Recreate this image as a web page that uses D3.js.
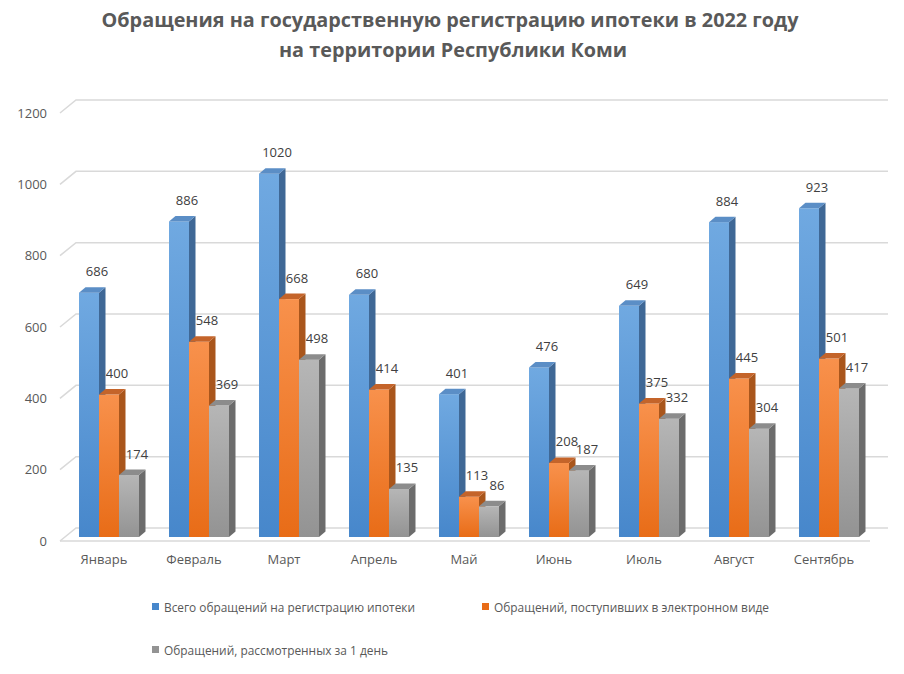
<!doctype html>
<html>
<head>
    <meta charset="utf-8"/>
    <style>
        html, body {
            margin: 0px;
            background: #fff;
        }
        svg {
            display: block;
        }
        text {
            font-family: 'Open Sans', 'Liberation Sans', sans-serif;
            fill: #595959;
        }
    </style>
    <script src="https://d3js.org/d3.v7.min.js"></script>
</head>
<body>

<svg width="904" height="674"></svg>

<script>

    var months = ["Январь", "Февраль", "Март", "Апрель", "Май", "Июнь", "Июль", "Август", "Сентябрь"];
    var totalValues = [686, 886, 1020, 680, 401, 476, 649, 884, 923];
    var electronicValues = [400, 548, 668, 414, 113, 208, 375, 445, 501];
    var oneDayValues = [174, 369, 498, 135, 86, 187, 332, 304, 417];
    var seriesNames = [
        "Всего обращений на регистрацию ипотеки",
        "Обращений, поступивших в электронном виде",
        "Обращений, рассмотренных за 1 день"
    ];
    var yTicks = [0, 200, 400, 600, 800, 1000, 1200];

    var svg = d3.select("svg");

    // 3d look: back wall is shifted up/right from the front plane
    var WALL_DX = 16, WALL_DY = -13;
    var BAR_DX = 6.5, BAR_DY = -5.5;
    var BAR_W = 20;

    var x = d3.scaleBand().domain(months).range([60, 870]).padding(0);
    var yFront = d3.scaleLinear().domain([0, 1200]).range([541, 113]);
    var yBar = d3.scaleLinear().domain([0, 1200]).range([537, 109.6]);

    var palette = [
        {top: "#5b8ec6", side: "#3f6896", light: "#70a9e1", dark: "#4787cb"},
        {top: "#c4642a", side: "#a9561c", light: "#f8914c", dark: "#e86c17"},
        {top: "#8c8c8c", side: "#6c6c6c", light: "#b6b6b6", dark: "#939393"}
    ];

    var defs = svg.append("defs");
    palette.forEach(function(p, i) {
        var g = defs.append("linearGradient")
            .attr("id", "front-" + i)
            .attr("x1", 0).attr("y1", 0).attr("x2", 0).attr("y2", 1);
        g.append("stop").attr("offset", "0%").attr("stop-color", p.light);
        g.append("stop").attr("offset", "100%").attr("stop-color", p.dark);
    });

    // --- TITLE --- //
    svg.append("text")
        .attr("x", 450).attr("y", 27)
        .attr("text-anchor", "middle")
        .attr("textLength", 697).attr("lengthAdjust", "spacingAndGlyphs")
        .style("font-size", "20px").style("font-weight", "bold")
        .text("Обращения на государственную регистрацию ипотеки в 2022 году");
    svg.append("text")
        .attr("x", 453).attr("y", 57)
        .attr("text-anchor", "middle")
        .attr("textLength", 348).attr("lengthAdjust", "spacingAndGlyphs")
        .style("font-size", "20px").style("font-weight", "bold")
        .text("на территории Республики Коми");

    // --- GRID --- //
    var grid = svg.append("g")
        .attr("fill", "none")
        .attr("stroke", "#d9d9d9")
        .attr("stroke-width", 1.5);

    yTicks.forEach(function(v) {
        var yf = yFront(v);
        grid.append("path")
            .attr("d", "M60," + yf + "L" + (60 + WALL_DX) + "," + (yf + WALL_DY) + "L888," + (yf + WALL_DY));
    });
    grid.append("path").attr("d", "M60,541L870,541");

    // --- Y AXIS LABELS --- //
    svg.append("g")
        .selectAll("text")
        .data(yTicks)
        .enter().append("text")
        .attr("x", 47)
        .attr("y", function(d) { return yFront(d) + 4.5; })
        .attr("text-anchor", "end")
        .style("font-size", "13px")
        .text(function(d) { return d; });

    // --- X AXIS LABELS --- //
    svg.append("g")
        .selectAll("text")
        .data(months)
        .enter().append("text")
        .attr("x", function(d) { return x(d) + 44; })
        .attr("y", 564)
        .attr("text-anchor", "middle")
        .style("font-size", "13px")
        .text(function(d) { return d; });

    // --- BARS --- //
    var series = [totalValues, electronicValues, oneDayValues];
    var bars = svg.append("g");
    var labels = svg.append("g");

    months.forEach(function(m, i) {
        series.forEach(function(values, s) {
            var v = values[i];
            var x0 = x(m) + 19 + s * BAR_W;
            var x1 = x0 + BAR_W;
            var yt = yBar(v);
            var yb = yBar(0);
            var p = palette[s];

            bars.append("rect")
                .attr("x", x0).attr("y", yt)
                .attr("width", BAR_W).attr("height", yb - yt)
                .attr("fill", "url(#front-" + s + ")");
            bars.append("path")
                .attr("d", "M" + x1 + "," + yt + "L" + (x1 + BAR_DX) + "," + (yt + BAR_DY) +
                    "L" + (x1 + BAR_DX) + "," + (yb + BAR_DY) + "L" + x1 + "," + yb + "Z")
                .attr("fill", p.side);
            bars.append("path")
                .attr("d", "M" + x0 + "," + yt + "L" + x1 + "," + yt +
                    "L" + (x1 + BAR_DX) + "," + (yt + BAR_DY) + "L" + (x0 + BAR_DX) + "," + (yt + BAR_DY) + "Z")
                .attr("fill", p.top);

            labels.append("text")
                .attr("x", x0 + BAR_W / 2 + 8)
                .attr("y", yt - 16.5)
                .attr("text-anchor", "middle")
                .style("font-size", "13px")
                .style("fill", "#404040")
                .text(v);
        });
    });

    // --- LEGEND --- //
    var legendItems = [
        {x: 152, y: 607, width: 251},
        {x: 482, y: 607, width: 275},
        {x: 152, y: 650, width: 224}
    ];
    var legend = svg.append("g");
    legendItems.forEach(function(item, i) {
        legend.append("rect")
            .attr("x", item.x).attr("y", item.y - 4)
            .attr("width", 7).attr("height", 7)
            .attr("fill", palette[i].dark);
        legend.append("text")
            .attr("x", item.x + 12).attr("y", item.y + 4.5)
            .attr("textLength", item.width).attr("lengthAdjust", "spacingAndGlyphs")
            .style("font-size", "13px")
            .text(seriesNames[i]);
    });

</script>

</body>
</html>
